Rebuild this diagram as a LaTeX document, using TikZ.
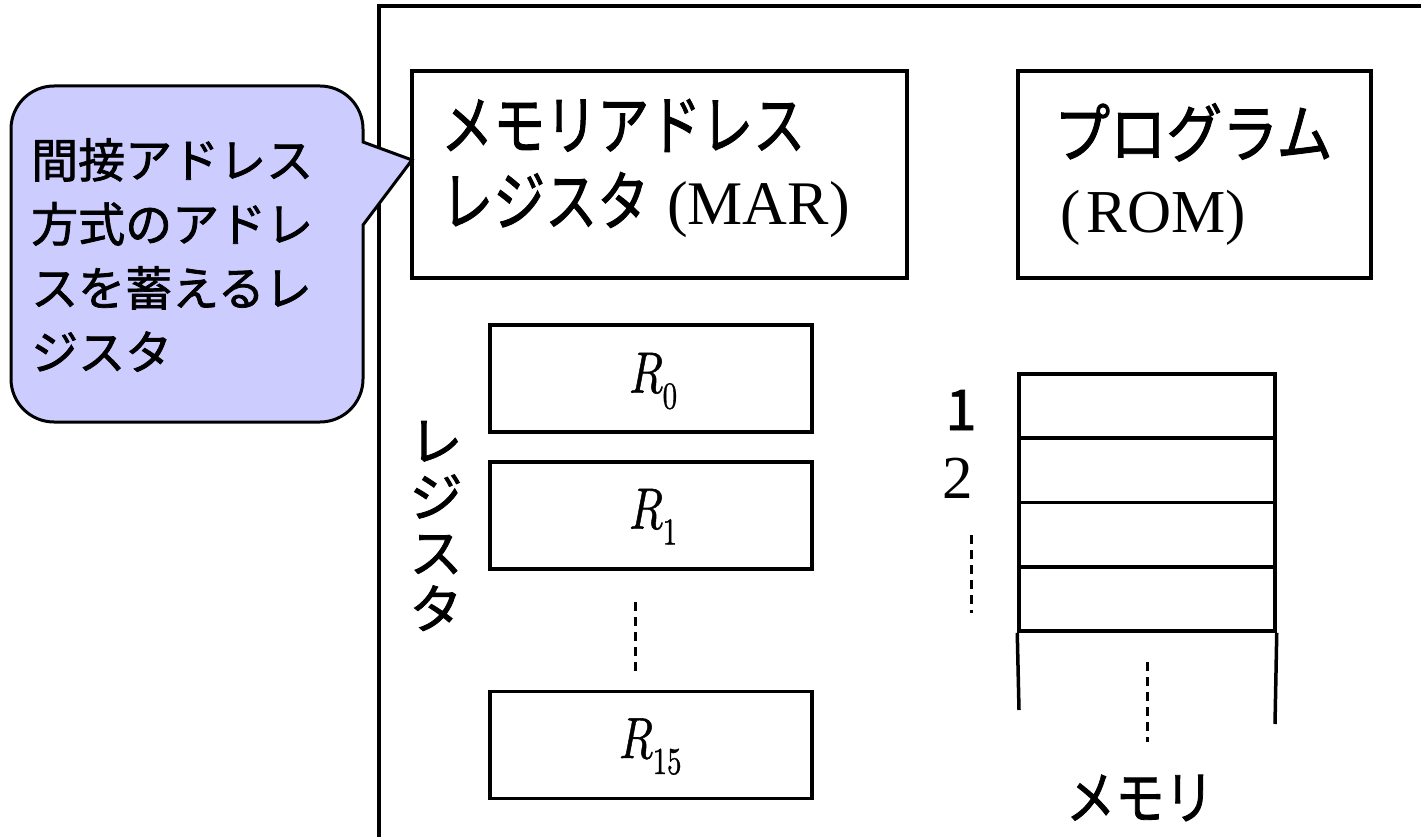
\documentclass[tikz,border=0pt]{standalone}
\usepackage[no-math]{fontspec}
\setmainfont{Liberation Serif}
\newfontfamily\jp{Noto Sans CJK JP}[FakeBold=1.5]
\newfontfamily\lmm{latinmodern-math.otf}[FakeBold=1]
\definecolor{calloutfill}{HTML}{CCCCFF}
\tikzset{
  box/.style={draw, line width=3.5pt, inner sep=0pt, fill=white},
  frameline/.style={line width=3.5pt},
  callout/.style={draw, line width=3pt, fill=calloutfill, line join=miter},
  dashline/.style={line width=3pt, dash pattern=on 9pt off 6pt},
  memline/.style={line width=3.5pt},
  jplabel/.style={inner sep=0pt, font=\jp},
  reglabel/.style={inner sep=0pt, anchor=base west},
}
\newcommand{\regtext}[1]{\scalebox{0.76}[1]{{\lmm\fontsize{58}{60}\selectfont 𝑅}\raisebox{-16pt}{\lmm\fontsize{38}{40}\selectfont #1}}}
\begin{document}
\begin{tikzpicture}[x=1pt,y=1pt]
\useasboundingbox (0,0) rectangle (1421,-837);
% outer frame
\coordinate (fbl) at (379,-845);
\coordinate (ftl) at (379,-6);
\coordinate (ftr) at (1430,-6);
\draw[frameline] (fbl) -- (ftl) -- (ftr);

% MAR box
\node[box, minimum width=495pt, minimum height=207pt] (mar) at (659.5,-174.5) {};
\node[jplabel, anchor=base west, font=\jp\fontsize{65}{77}\selectfont] (mar1) at (441,-149) {\scalebox{0.8}[1]{メモリアドレス}};
\node[jplabel, anchor=base west, font=\jp\fontsize{65}{77}\selectfont] (mar2) at (441,-225) {\scalebox{0.8}[1]{レジスタ}\hspace{18pt}{\rmfamily\fontsize{62}{77}\selectfont(MAR)}};

% ROM box
\node[box, minimum width=353pt, minimum height=207pt] (rom) at (1194.5,-174.5) {};
\node[jplabel, anchor=base west, font=\jp\fontsize{64}{77}\selectfont] (rom1) at (1054,-157) {\scalebox{0.875}[1]{プログラム}};
\node[inner sep=0pt, anchor=base west, font=\rmfamily\fontsize{61}{77}\selectfont] (rom2) at (1060,-233) {(\hspace{6pt}ROM)};

% registers
\node[box, minimum width=322pt, minimum height=107pt] (r0) at (651,-378.5) {};
\node[box, minimum width=322pt, minimum height=107pt] (r1) at (651,-515.5) {};
\node[box, minimum width=322pt, minimum height=107pt] (r15) at (651,-745) {};
\node[reglabel] (r0t) at ([xshift=-22pt,yshift=-14pt]r0.center) {\regtext{0}};
\node[reglabel] (r1t) at ([xshift=-22pt,yshift=-13pt]r1.center) {\regtext{1}};
\node[reglabel] (r15t) at ([xshift=-32pt,yshift=-13pt]r15.center) {\regtext{15}};
\draw[dashline] ([xshift=-16pt,yshift=-31pt]r1.south) -- ([xshift=-16pt,yshift=15pt]r15.north);

\node[jplabel, align=center, font=\jp\fontsize{53}{56}\selectfont] (regname) at (436,-526) {レ\\ジ\\ス\\タ};

% memory
\node[box, minimum width=256pt, minimum height=64.25pt] (m1) at (1147,-406.1) {};
\node[box, minimum width=256pt, minimum height=64.25pt] (m2) at (1147,-470.4) {};
\node[box, minimum width=256pt, minimum height=64.25pt] (m3) at (1147,-534.6) {};
\node[box, minimum width=256pt, minimum height=64.25pt] (m4) at (1147,-598.9) {};
\coordinate (mlb) at (1019,-710);
\coordinate (mrb) at (1275,-724);
\draw[memline] (m4.south west) -- (mlb);
\draw[memline] (m4.south east) -- (mrb);
\coordinate (mda) at (1147,-662);
\coordinate (mdb) at (1147,-742);
\draw[dashline] (mda) -- (mdb);
\node[jplabel, font=\jp\fontsize{58}{60}\selectfont] (memname) at (1140,-798) {\scalebox{0.85}[1]{メモリ}};

\node[jplabel, anchor=base, font=\jp\fontsize{56}{60}\selectfont] (n1) at (961,-430) {1};
\node[inner sep=0pt, anchor=base, font=\rmfamily\fontsize{61}{70}\selectfont] (n2) at (958,-498) {2};
\coordinate (nda) at (971,-535);
\coordinate (ndb) at (971,-613);
\draw[dashline] (nda) -- (ndb);

% callout
\draw[callout] (54,-86) -- (320,-86) arc[start angle=90,end angle=0,radius=43pt] -- (363,-142) -- (412,-160) -- (363,-225) -- (363,-379) arc[start angle=0,end angle=-90,radius=43pt] -- (54,-422) arc[start angle=270,end angle=180,radius=43pt] -- (11,-129) arc[start angle=180,end angle=90,radius=43pt] -- cycle;
\node[jplabel, align=left, anchor=north west, font=\jp\fontsize{47}{64}\selectfont] (calltext) at (31,-138) {間接アドレス\\方式のアドレ\\スを蓄えるレ\\ジスタ};
\end{tikzpicture}
\end{document}
